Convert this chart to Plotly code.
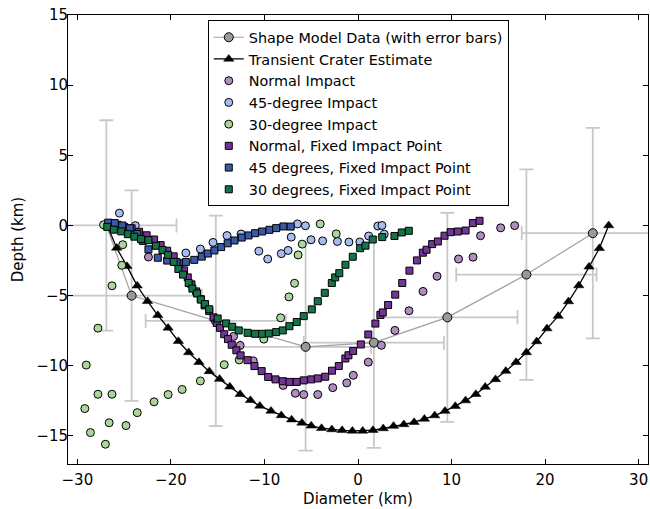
import plotly.graph_objects as go

# Shape model data (with error bars)
shape_x = [-26.9, -24.2, -15.2, -5.6, 1.7, 9.55, 18.0, 25.1]
shape_y = [0.0, -5.0, -6.8, -8.65, -8.35, -6.55, -3.5, -0.55]
shape_xerr = [7.5, 7.5, 7.5, 7.0, 7.5, 7.5, 7.5, 7.6]
shape_yerr = [7.5, 7.5, 7.5, 7.4, 7.5, 7.45, 7.5, 7.5]

# Transient crater estimate
trans_x = [-26.8, -25.8, -24.7, -23.6, -22.5, -21.4, -20.3, -19.2, -18.1, -17.0,
           -15.9, -14.8, -13.7, -12.6, -11.5, -10.5, -9.3, -8.2, -7.1, -6.0,
           -5.0, -3.9, -2.8, -1.7, -0.6, 0.5, 1.6, 2.7, 3.8, 4.9,
           6.0, 7.1, 8.2, 9.3, 10.4, 11.5, 12.6, 13.6, 14.7, 15.8,
           16.9, 18.0, 19.1, 20.2, 21.4, 22.5, 23.6, 24.7, 25.8, 26.8]
trans_y = [0.0, -1.6, -2.9, -4.3, -5.4, -6.4, -7.3, -8.25, -9.05, -9.75,
           -10.4, -10.95, -11.5, -12.03, -12.46, -12.86, -13.22, -13.54, -13.84, -14.07,
           -14.28, -14.45, -14.54, -14.6, -14.64, -14.64, -14.59, -14.47, -14.3, -14.18,
           -14.02, -13.79, -13.55, -13.23, -12.88, -12.48, -12.03, -11.51, -10.97, -10.38,
           -9.75, -9.05, -8.27, -7.35, -6.46, -5.42, -4.28, -2.95, -1.63, 0.0]

# Normal impact
normal_x = [-22.4, -13.3, -12.6, -11.2, -8.0, -6.7, -5.8, -4.3, -2.7, -1.2, -0.5,
            1.1, 2.5, 3.95, 5.45, 6.95, 8.45, 10.75, 12.3, 13.1, 15.25, 16.75]
normal_y = [-2.25, -7.9, -8.55, -9.65, -11.4, -11.96, -12.05, -12.05, -11.56, -11.22, -10.68,
            -9.74, -8.54, -7.48, -6.08, -4.7, -3.62, -2.39, -2.26, -0.73, -0.17, -0.01]

# 45-degree impact
deg45_x = [-25.5, -23.8, -18.4, -16.85, -15.5, -14.0, -12.5, -10.6, -9.65, -8.2, -7.47,
           -7.14, -6.47, -5.62, -5.02, -3.78, -2.2, -0.97, 0.2, 1.14, 2.12, 2.56, 2.8]
deg45_y = [0.88, -0.01, -1.96, -1.68, -1.21, -0.72, -0.61, -1.83, -2.39, -2.01, -1.78,
           -0.83, 0.11, -0.02, -1.02, -1.1, -1.14, -1.18, -1.18, -0.75, -0.04, 0.0, -0.62]

# 30-degree impact
deg30_x = [-27.2, -25.15, -25.25, -26.3, -27.8, -29.05, -29.2, -28.6, -27.0, -26.6,
           -27.8, -26.3, -24.8, -23.6, -21.8, -20.3, -18.8, -16.85, -14.3, -12.7,
           -10.07, -8.27, -7.38, -6.78, -6.4, -5.96, -4.04, -2.33]
deg30_y = [0.05, -1.37, -2.84, -4.3, -7.32, -9.95, -13.05, -14.76, -15.59, -14.06,
           -12.03, -12.03, -14.26, -13.34, -12.57, -12.05, -11.69, -11.08, -9.92, -9.58,
           -8.1, -6.58, -5.09, -4.12, -2.1, -1.33, 0.11, -0.6]

# Normal, fixed impact point
nfix_x = [-26.4, -25.7, -25.0, -24.2, -23.4, -22.6, -21.8, -21.1, -20.4, -19.7,
          -19.1, -18.6, -18.2, -17.8, -17.3, -16.8, -16.4, -15.9, -15.45, -15.1,
          -14.75, -14.3, -13.9, -13.5, -13.0, -12.55, -11.8, -11.07, -10.3, -9.6,
          -8.82, -8.04, -7.33, -6.55, -5.8, -5.0, -4.3, -3.5, -2.78, -2.05,
          -1.35, -1.02, -0.52, 0.3, 1.1, 1.86, 2.4, 2.65, 3.22, 3.98,
          4.73, 5.5, 6.3, 6.93, 7.33, 7.93, 8.54, 9.25, 9.9, 10.67,
          11.5, 12.28, 12.99]
nfix_y = [0.1, 0.05, -0.1, -0.2, -0.45, -0.7, -1.0, -1.4, -1.8, -2.2,
          -2.7, -3.2, -3.7, -4.2, -4.7, -5.25, -5.7, -6.1, -6.55, -6.95,
          -7.3, -7.75, -8.1, -8.5, -8.9, -9.26, -9.6, -10.02, -10.38, -10.8,
          -10.97, -11.1, -11.15, -11.15, -11.04, -10.97, -10.9, -10.78, -10.35, -10.02,
          -9.48, -9.25, -8.95, -8.48, -7.77, -6.99, -6.38, -6.2, -5.67, -4.93,
          -4.1, -3.22, -2.49, -1.94, -1.73, -1.33, -1.14, -0.73, -0.48, -0.43,
          -0.36, 0.17, 0.33]

# 45 degrees, fixed impact point
f45_x = [-26.7, -26.0, -25.2, -24.4, -23.6, -23.0, -22.4, -21.4, -20.4, -19.4,
         -18.4, -17.5, -16.7, -16.05, -15.35, -14.63, -13.93, -13.2, -12.43, -11.7,
         -11.0, -10.25, -9.47, -8.75, -7.97, -7.2]
f45_y = [0.2, 0.17, 0.0, -0.2, -0.6, -1.1, -1.7, -2.3, -2.5, -2.6,
         -2.6, -2.45, -2.22, -2.0, -1.78, -1.54, -1.27, -1.07, -0.86, -0.71,
         -0.55, -0.43, -0.31, -0.19, -0.07, -0.08]

# 30 degrees, fixed impact point
f30_x = [-26.8, -26.1, -25.3, -24.6, -23.9, -23.2, -22.4, -21.6, -20.9, -20.3,
         -19.7, -19.2, -18.7, -18.1, -17.7, -17.2, -16.8, -16.35, -15.9, -15.0,
         -14.1, -13.45, -12.75, -11.8, -11.0, -10.25, -9.54, -8.75, -8.04, -7.33,
         -6.55, -5.8, -4.94, -4.3, -3.55, -2.8, -2.44, -2.0, -1.34, -0.56,
         0.23, 0.8, 1.58, 2.59, 3.9, 4.68, 5.43]
f30_y = [-0.1, -0.3, -0.42, -0.62, -0.8, -0.97, -1.05, -1.45, -1.75, -2.1,
         -2.6, -3.1, -3.5, -4.1, -4.5, -4.85, -5.28, -5.6, -5.97, -6.63,
         -6.98, -7.22, -7.48, -7.65, -7.72, -7.72, -7.7, -7.6, -7.48, -7.18,
         -6.88, -6.46, -5.98, -5.4, -4.8, -4.1, -3.7, -3.4, -2.8, -2.23,
         -1.62, -1.44, -1.0, -0.83, -0.75, -0.5, -0.38]

x_ticks = [-30, -20, -10, 0, 10, 20, 30]
y_ticks = [-15, -10, -5, 0, 5, 10, 15]

FONT = "DejaVu Sans"
edge = dict(color="black", width=1)

fig = go.Figure()
fig.add_trace(go.Scatter(
    x=shape_x, y=shape_y, mode="lines+markers",
    name="Shape Model Data (with error bars)",
    line=dict(color="#a0a0a0", width=1.2),
    marker=dict(symbol="circle", size=9, color="#999999", line=edge),
    error_x=dict(type="data", array=shape_xerr, color="#c8c8c8", thickness=1.8, width=7),
    error_y=dict(type="data", array=shape_yerr, color="#c8c8c8", thickness=1.8, width=7),
))
fig.add_trace(go.Scatter(
    x=trans_x, y=trans_y, mode="lines+markers", name="Transient Crater Estimate",
    line=dict(color="black", width=1.3),
    marker=dict(symbol="triangle-up", size=9, color="black", line=dict(color="black", width=0.5)),
))
circ = [("Normal Impact", normal_x, normal_y, "#af8dc3"),
        ("45-degree Impact", deg45_x, deg45_y, "#a4bcf0"),
        ("30-degree Impact", deg30_x, deg30_y, "#aad69c")]
for name, xs, ys, col in circ:
    fig.add_trace(go.Scatter(x=xs, y=ys, mode="markers", name=name,
                             marker=dict(symbol="circle", size=8, color=col, line=edge)))
sq = [("Normal, Fixed Impact Point", nfix_x, nfix_y, "#743599"),
      ("45 degrees, Fixed Impact Point", f45_x, f45_y, "#3a58a8"),
      ("30 degrees, Fixed Impact Point", f30_x, f30_y, "#157348")]
for name, xs, ys, col in sq:
    fig.add_trace(go.Scatter(x=xs, y=ys, mode="markers", name=name,
                             marker=dict(symbol="square", size=7, color=col, line=edge)))

axis_common = dict(showgrid=False, zeroline=False, showline=True, linecolor="black",
                   linewidth=1, mirror="ticks", ticks="inside", ticklen=5,
                   tickcolor="black", tickfont=dict(family=FONT, size=15, color="black"))
fig.update_xaxes(range=[-31, 31], tickvals=x_ticks, ticklabelstandoff=2, **axis_common,
                 title=dict(text="Diameter (km)", font=dict(family=FONT, size=15, color="black"), standoff=5))
fig.update_yaxes(range=[-17, 15], tickvals=y_ticks, ticklabelstandoff=-4, **axis_common,
                 title=dict(text="Depth (km)", font=dict(family=FONT, size=15, color="black"), standoff=9))

fig.update_layout(
    width=650, height=509,
    margin=dict(l=68, r=2, t=15, b=45, autoexpand=False),
    paper_bgcolor="white", plot_bgcolor="white",
    font=dict(family=FONT, size=14, color="black"),
    showlegend=True,
    legend=dict(x=0.241, y=0.988, xanchor="left", yanchor="top",
                bgcolor="white", bordercolor="black", borderwidth=1,
                font=dict(family=FONT, size=14.4, color="black")),
)
fig.write_html("out.html", config={"displayModeBar": False},
               post_script="document.body.style.margin='0';document.body.style.overflow='hidden';")
